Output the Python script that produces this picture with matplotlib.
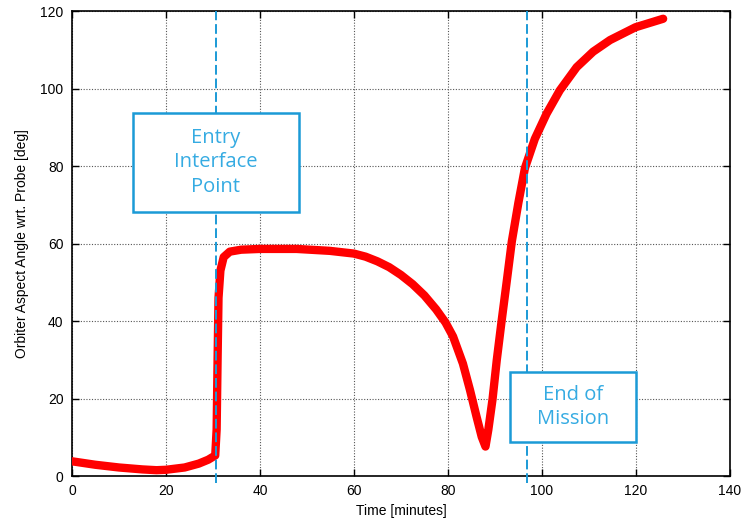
import matplotlib.pyplot as plt
from matplotlib.patches import Rectangle

time_min = [0, 5, 10, 15, 18, 20, 24, 27, 29, 30.5, 30.8, 31.0, 31.2, 31.6, 32.3,
            33.6, 36, 40, 47.8, 54.9, 60, 62.5, 65, 67.5, 70, 72.5, 75, 77.5, 79.5,
            81.1, 83.2, 84.7, 86.1, 87.2, 88.0, 88.6, 89.5, 90.4, 91.4, 92.5, 93.6,
            95.0, 96.4, 98.5, 101.0, 103.8, 107.4, 110.9, 114.5, 119.9, 125.8]
angle_deg = [3.8, 2.9, 2.2, 1.7, 1.5, 1.6, 2.2, 3.2, 4.2, 5.3, 12, 30, 46, 53, 56.5,
             57.9, 58.4, 58.6, 58.6, 58.1, 57.4, 56.6, 55.4, 53.9, 51.9, 49.5, 46.6, 43.0,
             39.6, 36.0, 29.0, 22.2, 15.3, 10.1, 7.6, 11.9, 19.8, 29.9, 39.7, 50.0, 60.5,
             70.5, 79.5, 87.0, 93.5, 99.5, 105.5, 109.5, 112.5, 115.8, 118.0]

entry_time = 30.6
end_time = 96.9

BLUE = '#1b9ad6'

fig = plt.figure(figsize=(7.41, 5.24), dpi=100)
ax = fig.add_axes([0.097, 0.0916, 0.888, 0.8874])

ax.plot(time_min, angle_deg, color='red', lw=6, solid_capstyle='round',
        solid_joinstyle='round', zorder=3)

for t in (entry_time, end_time):
    ax.axvline(t, ymin=-0.015, ymax=1.0, color=BLUE, lw=1.4, ls=(0, (5, 2)),
               clip_on=False, zorder=4)

ax.set_xlim(0, 140)
ax.set_ylim(0, 120)
ax.set_xticks(range(0, 141, 20))
ax.set_yticks(range(0, 121, 20))
ax.grid(True, ls=(0, (1, 1.5)), color='#555555', lw=0.8)
ax.tick_params(direction='in', top=True, right=True, length=5, width=1,
               labelsize=10, pad=6)
for lab in ax.get_xticklabels() + ax.get_yticklabels():
    lab.set_family('Liberation Sans')
for s in ax.spines.values():
    s.set_linewidth(1.2)

ax.set_xlabel('Time [minutes]', family='Liberation Sans', fontsize=10, labelpad=4)
ax.set_ylabel('Orbiter Aspect Angle wrt. Probe [deg]', family='Liberation Sans',
              fontsize=10, labelpad=8)

boxes = [
    ((0.0927, 0.568), 0.252, 0.213, 'Entry\nInterface\nPoint'),
    ((0.666, 0.073), 0.191, 0.151, 'End of\nMission'),
]
for (x0, y0), w, h, txt in boxes:
    ax.add_patch(Rectangle((x0, y0), w, h, transform=ax.transAxes,
                           facecolor='white', edgecolor=BLUE, lw=1.8, zorder=5))
    ax.text(x0 + w / 2, y0 + h / 2, txt, transform=ax.transAxes, ha='center',
            va='center', color='#35abe2', fontsize=14.5, family='Open Sans',
            linespacing=1.3, zorder=6)

fig.savefig('out.png', dpi=100)
